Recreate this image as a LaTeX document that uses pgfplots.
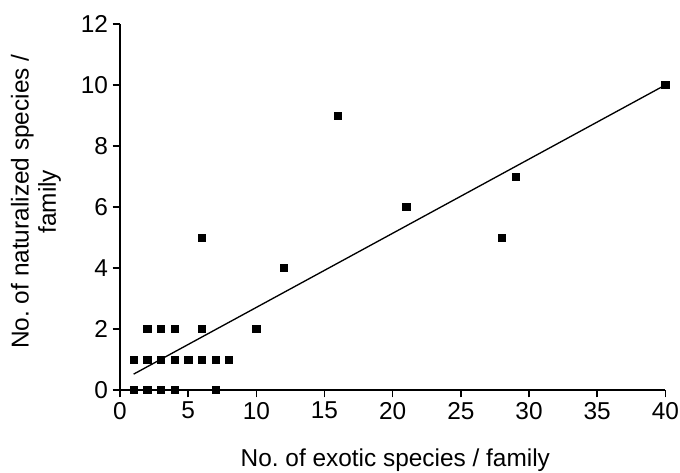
\documentclass[border=0pt]{standalone}
\usepackage{pgfplots}
\pgfplotsset{compat=1.18}
\usepackage{fontspec}
\setmainfont{Liberation Sans}

\begin{document}
\begin{tikzpicture}
\begin{axis}[
    scale only axis,
    width=409pt, height=274.5pt,
    xmin=0, xmax=40, ymin=0, ymax=12,
    axis lines=left,
    axis line style={-, line width=1.1pt},
    tick style={line width=1.1pt, black},
    tick align=outside,
    major tick length=5.5pt,
    xtick={0,5,...,40}, ytick={0,2,...,12},
    font=\fontsize{18.3}{20.5}\selectfont,
    /pgf/number format/assume math mode=true,
    xlabel={No.\ of exotic species / family},
    xlabel style={at={(axis description cs:0.5,0)}, anchor=base, yshift=-57.75pt, xshift=2pt},
    ylabel={No.\ of naturalized species /\\family},
    ylabel style={at={(axis description cs:0,0.5)}, anchor=center,
        yshift=63pt, xshift=4pt, align=center},
    clip=false,
]
    % observed families
    \addplot[only marks, mark=square*, mark size=2.7pt, black] coordinates {
        (1,0) (2,0) (3,0) (4,0) (7,0)
        (1,1) (2,1) (3,1) (4,1) (5,1) (6,1) (7,1) (8,1)
        (2,2) (3,2) (4,2) (6,2) (10,2)
        (6,5) (12,4) (16,9) (21,6) (28,5) (29,7) (40,10)
    };
    % fitted line
    \addplot[black, line width=1pt] coordinates {(1,0.52) (40,10)};
\end{axis}
\pgfresetboundingbox
\path[use as bounding box] (-90pt,-62.25pt) rectangle (420pt,292.5pt);
\end{tikzpicture}
\end{document}
